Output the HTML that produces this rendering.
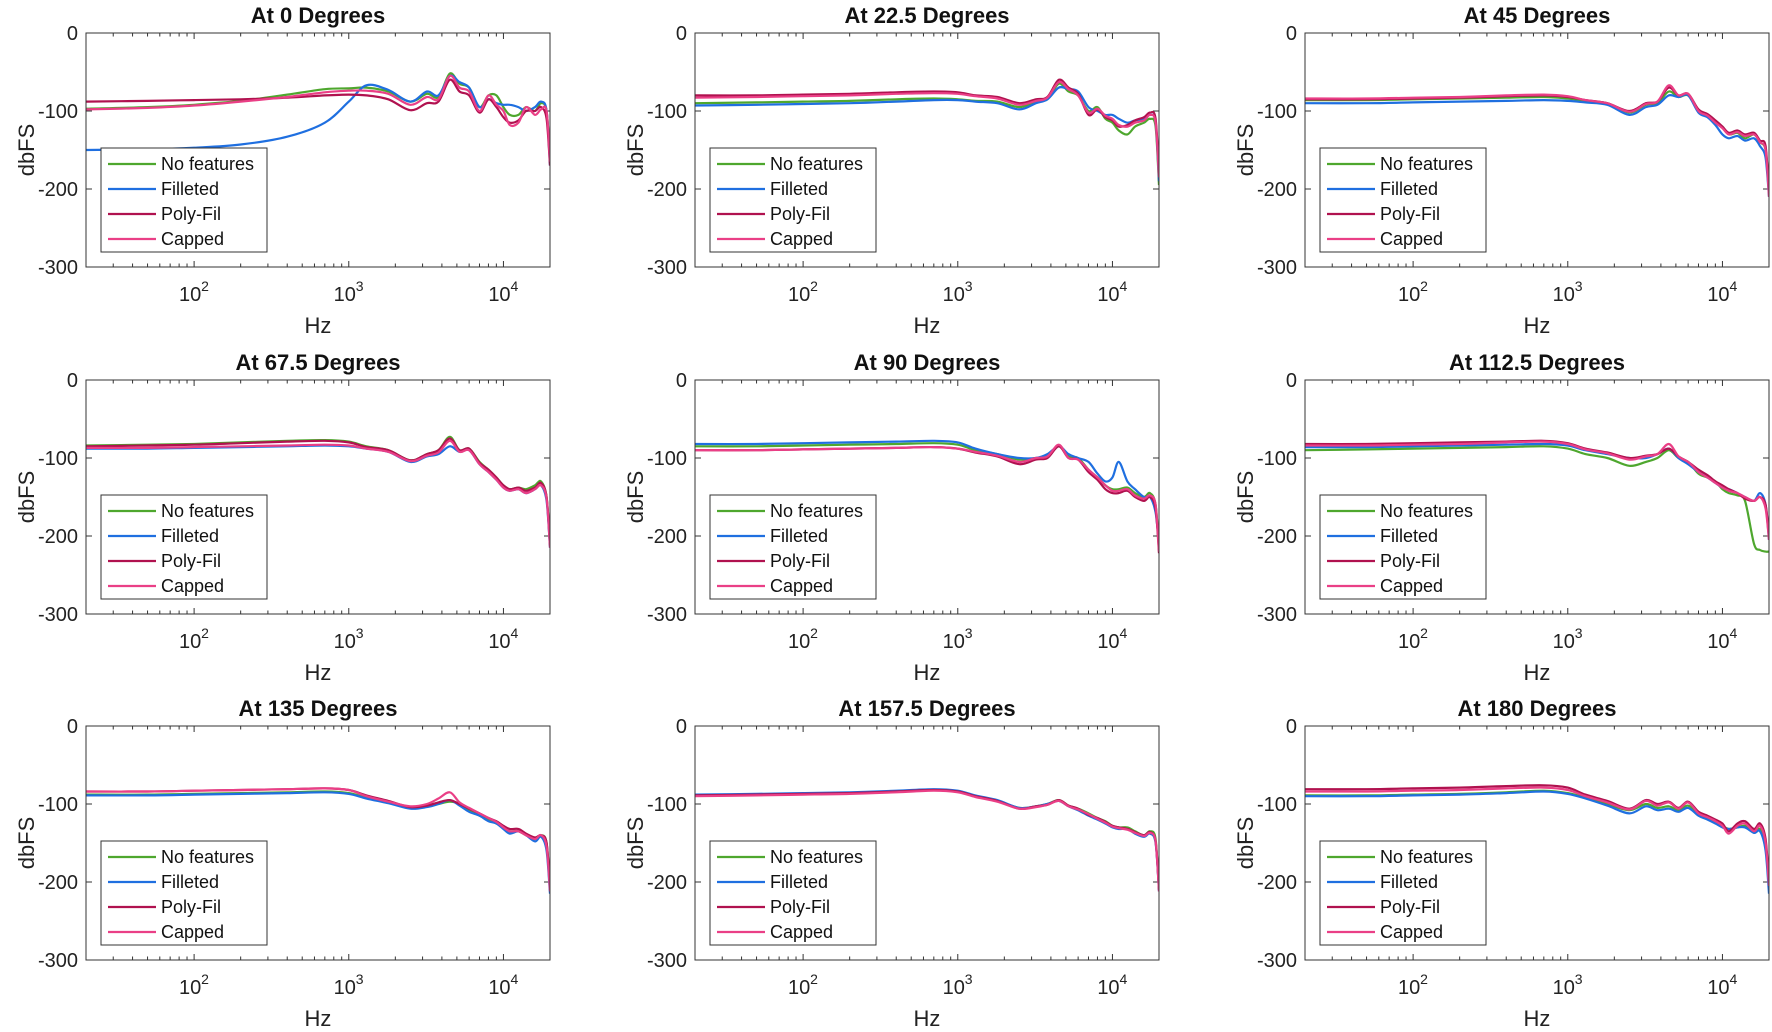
<!DOCTYPE html>
<html><head><meta charset="utf-8"><style>
html,body{margin:0;padding:0;background:#fff;}
svg{display:block;font-family:"Liberation Sans",Arial,sans-serif;}
</style></head><body>
<svg id="fig" width="1772" height="1032" viewBox="0 0 1772 1032" xmlns="http://www.w3.org/2000/svg"></svg>
<script>
const titles=["At 0 Degrees","At 22.5 Degrees","At 45 Degrees","At 67.5 Degrees","At 90 Degrees","At 112.5 Degrees","At 135 Degrees","At 157.5 Degrees","At 180 Degrees"];
const seriesNames=["No features","Filleted","Poly-Fil","Capped"];
const yTicks=[0,-100,-200,-300];
const xTickExps=[2,3,4];
const freqs=[20,50,100,200,400,700,1000,1300,1800,2500,3200,3800,4500,5200,6000,7000,8000,9000,10000,11000,12500,14000,16000,17500,19000,20000];
const p0nf=[-97,-95,-92,-87,-79,-72,-71,-70,-75,-88,-78,-82,-52,-65,-70,-95,-80,-80,-95,-105,-105,-95,-100,-90,-100,-160];
const p0fil=[-150,-149,-147,-143,-133,-115,-88,-67,-73,-88,-75,-80,-55,-63,-70,-95,-85,-90,-92,-92,-95,-100,-95,-88,-100,-170];
const p0poly=[-88,-87,-86,-85,-83,-80,-79,-80,-85,-99,-90,-88,-60,-75,-80,-102,-85,-95,-108,-115,-112,-100,-100,-95,-110,-170];
const p0cap=[-98,-96,-93,-88,-82,-76,-74,-74,-78,-92,-82,-85,-55,-70,-75,-100,-80,-92,-100,-118,-115,-95,-105,-98,-100,-165];
const p1nf=[-90,-89,-88,-87,-85,-84,-85,-87,-88,-95,-88,-85,-65,-75,-80,-100,-95,-110,-115,-125,-130,-120,-115,-110,-120,-195];
const p1fil=[-93,-92,-91,-90,-88,-86,-86,-88,-90,-98,-90,-85,-70,-72,-75,-95,-100,-105,-105,-110,-115,-112,-110,-105,-115,-190];
const p1poly=[-80,-80,-79,-78,-76,-75,-76,-80,-82,-90,-85,-82,-60,-70,-78,-105,-98,-108,-112,-120,-118,-112,-108,-102,-110,-180];
const p1cap=[-83,-82,-81,-80,-78,-77,-78,-81,-84,-92,-87,-83,-63,-72,-80,-102,-97,-106,-110,-118,-120,-115,-112,-105,-115,-185];
const p2nf=[-86,-86,-85,-84,-83,-82,-84,-87,-90,-102,-92,-90,-75,-82,-80,-100,-105,-115,-120,-130,-128,-135,-130,-140,-150,-200];
const p2fil=[-90,-90,-89,-88,-87,-86,-87,-89,-92,-105,-95,-92,-80,-82,-80,-102,-108,-118,-130,-135,-132,-138,-135,-145,-160,-210];
const p2poly=[-85,-85,-84,-83,-81,-80,-82,-86,-90,-100,-90,-88,-70,-80,-78,-98,-104,-112,-120,-128,-125,-130,-128,-138,-145,-205];
const p2cap=[-84,-84,-83,-82,-80,-79,-81,-86,-90,-101,-91,-88,-67,-80,-78,-100,-106,-115,-122,-130,-127,-132,-130,-140,-150,-210];
const p3nf=[-84,-83,-82,-80,-78,-77,-79,-85,-90,-103,-95,-90,-73,-90,-88,-105,-115,-125,-135,-140,-138,-140,-135,-130,-150,-210];
const p3fil=[-88,-88,-87,-86,-85,-84,-85,-88,-92,-105,-98,-95,-85,-92,-90,-108,-118,-128,-138,-142,-140,-145,-140,-135,-155,-215];
const p3poly=[-85,-84,-83,-81,-79,-78,-80,-86,-90,-103,-95,-90,-75,-90,-88,-106,-115,-125,-135,-140,-138,-142,-138,-132,-150,-212];
const p3cap=[-87,-87,-86,-85,-84,-83,-84,-88,-92,-104,-97,-93,-78,-92,-90,-108,-118,-128,-138,-142,-140,-145,-140,-135,-152,-215];
const p4nf=[-85,-85,-84,-83,-82,-81,-83,-90,-95,-102,-100,-98,-85,-98,-100,-115,-125,-135,-140,-140,-138,-145,-150,-145,-160,-215];
const p4fil=[-82,-82,-81,-80,-79,-78,-80,-88,-95,-100,-100,-95,-85,-95,-100,-105,-120,-130,-125,-105,-130,-140,-150,-150,-170,-210];
const p4poly=[-90,-90,-89,-88,-87,-86,-88,-93,-98,-108,-102,-100,-85,-100,-102,-118,-128,-140,-145,-145,-142,-150,-155,-150,-165,-222];
const p4cap=[-90,-90,-89,-88,-87,-86,-88,-92,-97,-105,-100,-98,-83,-100,-102,-115,-125,-135,-142,-142,-140,-148,-152,-148,-160,-220];
const p5nf=[-90,-89,-88,-87,-86,-85,-88,-95,-100,-110,-105,-100,-90,-100,-105,-120,-125,-130,-140,-145,-148,-155,-210,-218,-220,-220];
const p5fil=[-86,-86,-85,-84,-83,-82,-84,-90,-95,-100,-100,-95,-88,-100,-108,-118,-125,-132,-138,-140,-145,-150,-155,-145,-160,-205];
const p5poly=[-82,-82,-81,-80,-79,-78,-81,-88,-93,-100,-97,-95,-88,-98,-105,-115,-122,-130,-135,-140,-145,-152,-155,-150,-160,-200];
const p5cap=[-84,-84,-83,-82,-80,-79,-82,-89,-94,-102,-98,-95,-82,-98,-105,-118,-125,-132,-138,-142,-145,-150,-155,-150,-165,-205];
const p6nf=[-88,-88,-87,-86,-85,-84,-86,-92,-98,-105,-103,-100,-97,-100,-108,-115,-120,-125,-130,-135,-135,-140,-145,-140,-150,-210];
const p6fil=[-89,-89,-88,-87,-86,-85,-87,-93,-99,-106,-104,-100,-95,-102,-110,-115,-122,-125,-132,-138,-135,-140,-148,-142,-160,-215];
const p6poly=[-84,-84,-83,-82,-81,-80,-82,-89,-96,-104,-102,-98,-95,-100,-106,-112,-118,-122,-128,-132,-132,-138,-143,-140,-150,-205];
const p6cap=[-84,-84,-83,-82,-81,-80,-82,-90,-97,-103,-100,-93,-85,-98,-105,-112,-118,-123,-130,-135,-135,-140,-145,-140,-155,-212];
const p7nf=[-89,-88,-87,-86,-84,-82,-84,-90,-96,-105,-103,-100,-95,-102,-106,-112,-118,-122,-128,-130,-130,-135,-140,-135,-145,-210];
const p7fil=[-88,-87,-86,-85,-83,-81,-83,-89,-95,-105,-103,-100,-96,-103,-108,-115,-120,-125,-130,-132,-132,-138,-142,-138,-150,-212];
const p7poly=[-89,-88,-87,-86,-84,-82,-84,-90,-96,-106,-103,-101,-95,-102,-106,-114,-118,-123,-128,-130,-132,-136,-140,-136,-148,-210];
const p7cap=[-90,-89,-88,-87,-85,-83,-85,-91,-97,-106,-104,-101,-96,-103,-107,-113,-119,-124,-129,-131,-133,-137,-141,-137,-148,-212];
const p8nf=[-89,-89,-88,-87,-85,-83,-86,-92,-100,-108,-100,-105,-103,-108,-102,-112,-118,-122,-128,-132,-130,-128,-135,-132,-150,-205];
const p8fil=[-90,-90,-89,-88,-86,-84,-87,-93,-102,-112,-103,-108,-106,-110,-105,-115,-120,-125,-130,-132,-130,-130,-137,-135,-160,-215];
const p8poly=[-81,-81,-80,-79,-77,-76,-79,-88,-96,-106,-95,-100,-97,-105,-97,-110,-115,-120,-125,-135,-125,-122,-132,-125,-145,-200];
const p8cap=[-84,-84,-83,-82,-80,-79,-82,-90,-98,-107,-96,-102,-98,-106,-98,-112,-117,-122,-128,-138,-128,-125,-135,-128,-150,-205];
const panelData=[[p0nf,p0fil,p0poly,p0cap],[p1nf,p1fil,p1poly,p1cap],[p2nf,p2fil,p2poly,p2cap],[p3nf,p3fil,p3poly,p3cap],[p4nf,p4fil,p4poly,p4cap],[p5nf,p5fil,p5poly,p5cap],[p6nf,p6fil,p6poly,p6cap],[p7nf,p7fil,p7poly,p7cap],[p8nf,p8fil,p8poly,p8cap]];

const colors=["#4ea72e","#1f6fe0","#b0124f","#ea3f86"];
const NS="http://www.w3.org/2000/svg";
const svg=document.getElementById('fig');
const colL=[86,695,1305], rowT=[33,380,726], W=464, H=234;
const XMIN=20, XMAX=20000, YMIN=-300, YMAX=0;
function mk(tag,attrs,parent){const e=document.createElementNS(NS,tag);for(const k in attrs)e.setAttribute(k,attrs[k]);(parent||svg).appendChild(e);return e;}
function smooth(pts){let d="M"+pts[0][0].toFixed(1)+","+pts[0][1].toFixed(1);
 for(let i=0;i<pts.length-1;i++){const p0=pts[Math.max(0,i-1)],p1=pts[i],p2=pts[i+1],p3=pts[Math.min(pts.length-1,i+2)];
  const c1x=p1[0]+(p2[0]-p0[0])/6,c1y=p1[1]+(p2[1]-p0[1])/6,c2x=p2[0]-(p3[0]-p1[0])/6,c2y=p2[1]-(p3[1]-p1[1])/6;
  d+=" C"+c1x.toFixed(1)+","+c1y.toFixed(1)+" "+c2x.toFixed(1)+","+c2y.toFixed(1)+" "+p2[0].toFixed(1)+","+p2[1].toFixed(1);}
 return d;}
for(let p=0;p<9;p++){
 const L=colL[p%3],T=rowT[Math.floor(p/3)];
 const xs=f=>L+(Math.log10(f)-Math.log10(XMIN))/(Math.log10(XMAX)-Math.log10(XMIN))*W;
 const ys=v=>T+(YMAX-v)/(YMAX-YMIN)*H;
 const g=mk('g',{});
 
 
 mk('rect',{x:L,y:T,width:W,height:H,fill:'#fff'},g);
 const ttl=mk('text',{x:L+W/2,y:T-10,'text-anchor':'middle','font-size':22,'font-weight':'bold',fill:'#111'},g);
 ttl.textContent=titles[p];
 
 
 for(let e=1;e<=4;e++)for(let m=1;m<=9;m++){const f=m*Math.pow(10,e);if(f<XMIN||f>XMAX)continue;const x=xs(f);const len=m===1?6:3.5;
  mk('line',{x1:x,y1:T+H,x2:x,y2:T+H-len,stroke:'#333','stroke-width':1},g);mk('line',{x1:x,y1:T,x2:x,y2:T+len,stroke:'#333','stroke-width':1},g);}
 yTicks.forEach(v=>{const y=ys(v);
  mk('line',{x1:L,y1:y,x2:L+6,y2:y,stroke:'#333','stroke-width':1},g);mk('line',{x1:L+W,y1:y,x2:L+W-6,y2:y,stroke:'#333','stroke-width':1},g);
  const t=mk('text',{x:L-8,y:y+7,'text-anchor':'end','font-size':20,fill:'#222'},g);t.textContent=v;
  
  });
 xTickExps.forEach(e=>{const x=xs(Math.pow(10,e));
  const t=mk('text',{x:x-4,y:T+H+34,'text-anchor':'middle','font-size':20,fill:'#222'},g);t.textContent='10';
  
  
  const s=mk('text',{x:x+7,y:T+H+24,'font-size':14,fill:'#222'},g);s.textContent=e;});
 const xl=mk('text',{x:L+W/2,y:T+H+66,'text-anchor':'middle','font-size':22,fill:'#222'},g);xl.textContent='Hz';
 
 
 const yl=mk('text',{x:0,y:0,'text-anchor':'middle','font-size':22,fill:'#222',transform:`translate(${L-52},${T+H/2}) rotate(-90)`},g);yl.textContent='dbFS';
 
 
 const cp=mk('clipPath',{id:'cp'+p},g);mk('rect',{x:L,y:T,width:W,height:H},cp);
 panelData[p].forEach((vals,si)=>{
  const pts=freqs.map((f,i)=>[xs(f),ys(vals[i])]);
  const path=mk('path',{d:smooth(pts),fill:'none',stroke:colors[si],'stroke-width':2.2,'clip-path':`url(#cp${p})`},g);
  
  
 });
 mk('rect',{x:L,y:T,width:W,height:H,fill:'none',stroke:'#333','stroke-width':1},g);
 const lg=mk('g',{},g);
 
 
 mk('rect',{x:L+15,y:T+115,width:166,height:104,fill:'#fff',stroke:'#333','stroke-width':1},lg);
 seriesNames.forEach((n,si)=>{const y=T+131+si*25;
  mk('line',{x1:L+22,y1:y,x2:L+70,y2:y,stroke:colors[si],'stroke-width':2.2},lg);
  const t=mk('text',{x:L+75,y:y+6,'font-size':18,fill:'#111'},lg);t.textContent=n;
  
  });
}
</script>
</body></html>
